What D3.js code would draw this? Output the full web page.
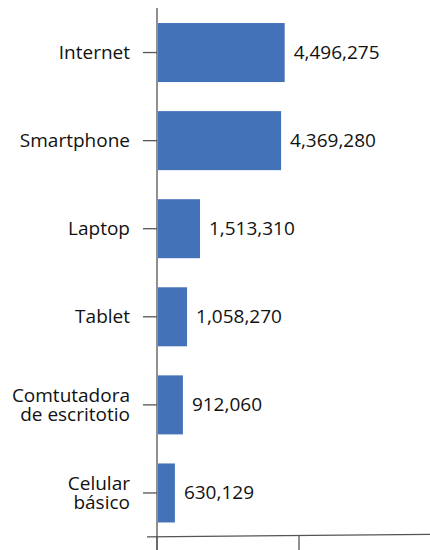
<!DOCTYPE html>
<html>
<head>
<meta charset="utf-8">
<script src="https://cdn.jsdelivr.net/npm/d3@7"></script>
<style>
  body { margin: 0; background: #fff; }
  svg text { font-family: "Open Sans", sans-serif; fill: #111; }
</style>
</head>
<body>
<svg id="canvas" width="430" height="550"></svg>
<script>
const categories = ["Internet", "Smartphone", "Laptop", "Tablet", "Comtutadora\nde escritotio", "Celular\nbásico"];
const values = [4496275, 4369280, 1513310, 1058270, 912060, 630129];
const xTicks = [0, 5000000];

const width = 430;
const height = 550;

const data = categories.map((c, i) => ({ name: c, value: values[i] }));

const x = d3.scaleLinear()
    .domain([0, 5000000])
    .range([157, 299]);

const y = d3.scaleBand()
    .domain(categories)
    .range([8.5, 537])
    .paddingInner(0.33)
    .paddingOuter(0.165);

const svg = d3.select('svg#canvas');

// bars
svg.append("g")
  .selectAll("rect")
  .data(data)
  .join("rect")
    .attr("x", x(0) + 1)
    .attr("y", d => y(d.name))
    .attr("width", d => x(d.value) - x(0) - 1)
    .attr("height", y.bandwidth())
    .attr("fill", "#4472b8");

// value labels
svg.append("g")
  .selectAll("text")
  .data(data)
  .join("text")
    .attr("x", d => x(d.value) + 9)
    .attr("y", d => y(d.name) + y.bandwidth() / 2 + 1)
    .attr("dominant-baseline", "middle")
    .attr("font-size", 19)
    .text(d => d3.format(",")(d.value));

// y axis line and ticks
const axisColor = "#555";
svg.append("line")
    .attr("x1", x(0)).attr("x2", x(0))
    .attr("y1", 8).attr("y2", height)
    .attr("stroke", axisColor)
    .attr("stroke-width", 1.3);

svg.append("g")
  .selectAll("line")
  .data(categories)
  .join("line")
    .attr("x1", x(0) - 14)
    .attr("x2", x(0))
    .attr("y1", d => y(d) + y.bandwidth() / 2)
    .attr("y2", d => y(d) + y.bandwidth() / 2)
    .attr("stroke", axisColor)
    .attr("stroke-width", 1.3);

// category labels
const labels = svg.append("g")
  .selectAll("text")
  .data(categories)
  .join("text")
    .attr("text-anchor", "end")
    .attr("font-size", 19)
    .attr("transform", d => `translate(130, ${y(d) + y.bandwidth() / 2})`);

labels.each(function(d) {
  const lines = d.split("\n");
  const t = d3.select(this);
  lines.forEach((ln, i) => {
    t.append("tspan")
      .attr("x", 0)
      .attr("y", (i - (lines.length - 1) / 2) * 18.5)
      .attr("dy", "0.35em")
      .text(ln);
  });
});

// x axis line (slightly tilted as in the reference)
svg.append("line")
    .attr("x1", x(0) - 10).attr("y1", 536.8)
    .attr("x2", width).attr("y2", 534.3)
    .attr("stroke", axisColor)
    .attr("stroke-width", 1.3);

svg.append("g")
  .selectAll("line")
  .data(xTicks)
  .join("line")
    .attr("x1", d => x(d))
    .attr("x2", d => x(d))
    .attr("y1", 536)
    .attr("y2", height)
    .attr("stroke", axisColor)
    .attr("stroke-width", 1.3);
</script>
</body>
</html>
